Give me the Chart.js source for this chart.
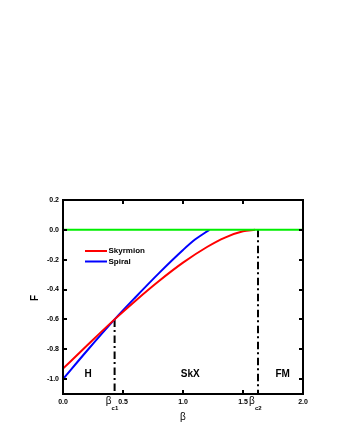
<!DOCTYPE html>
<html>
<head>
<meta charset="utf-8">
<script src="https://cdn.jsdelivr.net/npm/chart.js@4.4.1/dist/chart.umd.min.js"></script>
<style>
  html, body { margin: 0; padding: 0; background: #fff; }
  canvas { display: block; }
</style>
</head>
<body>
<canvas id="chart" width="340" height="440"></canvas>
<script>
// values
const skyrmionBeta = [0, 0.2, 0.43, 0.6, 0.8, 1.0, 1.2, 1.35, 1.5, 1.6];
const skyrmionF = [-0.93, -0.775, -0.6, -0.478, -0.343, -0.22, -0.115, -0.052, -0.01, 0];
const spiralBeta = [0, 0.2, 0.43, 0.6, 0.8, 1.0, 1.1, 1.22];
const spiralF = [-1.0, -0.81, -0.6, -0.455, -0.29, -0.135, -0.065, 0];
const fmBeta = [0, 2.0];
const fmF = [0, 0];
const criticalBeta = [0.43, 1.625];
const criticalF = [-0.6, 0];
const criticalNames = ['c1', 'c2'];
const seriesNames = ['Skyrmion', 'Spiral'];
const phaseNames = ['H', 'SkX', 'FM'];
const phaseBeta = [0.21, 1.06, 1.83];
const xTicks = [0, 0.5, 1.0, 1.5, 2.0];
const yTicks = [0.2, 0, -0.2, -0.4, -0.6, -0.8, -1.0];

const FONT = '"Liberation Sans", Arial, sans-serif';
Chart.defaults.font.family = FONT;

function toPoints(xs, ys) {
    return xs.map((x, i) => ({ x: x, y: ys[i] }));
}

const yMin = -1.1;
const dashDot = [7.5, 3, 2, 3.5];

const extras = {
    id: 'extras',
    afterDraw(chart) {
        const ctx = chart.ctx;
        const a = chart.chartArea;
        const xs = chart.scales.x;
        const ys = chart.scales.y;
        ctx.save();

        // frame
        ctx.strokeStyle = '#000';
        ctx.lineWidth = 2;
        ctx.strokeRect(a.left, a.top, a.right - a.left, a.bottom - a.top);

        // inward ticks on all four sides
        ctx.beginPath();
        xTicks.forEach(v => {
            const px = Math.round(xs.getPixelForValue(v));
            ctx.moveTo(px, a.bottom);
            ctx.lineTo(px, a.bottom - 4);
            ctx.moveTo(px, a.top);
            ctx.lineTo(px, a.top + 4);
        });
        yTicks.forEach(v => {
            const py = Math.round(ys.getPixelForValue(v));
            ctx.moveTo(a.left, py);
            ctx.lineTo(a.left + 4, py);
            ctx.moveTo(a.right, py);
            ctx.lineTo(a.right - 4, py);
        });
        ctx.stroke();

        // legend
        const colors = ['#ff0000', '#0000ff'];
        seriesNames.forEach((name, i) => {
            const y = 251 + i * 10.5;
            ctx.strokeStyle = colors[i];
            ctx.lineWidth = 2;
            ctx.beginPath();
            ctx.moveTo(85, y);
            ctx.lineTo(107, y);
            ctx.stroke();
            ctx.fillStyle = '#000';
            ctx.font = 'bold 8px ' + FONT;
            ctx.textAlign = 'left';
            ctx.textBaseline = 'middle';
            ctx.fillText(name, 108.5, y);
        });

        // phase labels
        ctx.fillStyle = '#000';
        ctx.font = 'bold 10px ' + FONT;
        ctx.textAlign = 'center';
        ctx.textBaseline = 'middle';
        phaseNames.forEach((name, i) => {
            ctx.fillText(name, xs.getPixelForValue(phaseBeta[i]), 374);
        });

        // critical point labels under the axis
        criticalBeta.forEach((b, i) => {
            const px = xs.getPixelForValue(b);
            ctx.font = '10px ' + FONT;
            ctx.textAlign = 'center';
            ctx.fillText('β', px - 6, 401);
            ctx.font = 'bold 6px ' + FONT;
            ctx.textAlign = 'left';
            ctx.fillText(criticalNames[i], px - 3, 408);
        });

        // axis titles
        ctx.font = '10px ' + FONT;
        ctx.textAlign = 'center';
        ctx.fillText('β', xs.getPixelForValue(1.0), 417);
        ctx.save();
        ctx.translate(35, 298);
        ctx.rotate(-Math.PI / 2);
        ctx.font = 'bold 10px ' + FONT;
        ctx.fillText('F', 0, 0);
        ctx.restore();

        ctx.restore();
    }
};

new Chart(document.getElementById('chart'), {
    type: 'scatter',
    data: {
        datasets: [
            {
                label: 'FM',
                data: toPoints(fmBeta, fmF),
                showLine: true,
                borderColor: '#00ee00',
                borderWidth: 2,
                pointRadius: 0
            },
            {
                label: seriesNames[0],
                data: toPoints(skyrmionBeta, skyrmionF),
                showLine: true,
                borderColor: '#ff0000',
                borderWidth: 2,
                pointRadius: 0,
                cubicInterpolationMode: 'monotone'
            },
            {
                label: seriesNames[1],
                data: toPoints(spiralBeta, spiralF),
                showLine: true,
                borderColor: '#0000ff',
                borderWidth: 2,
                pointRadius: 0,
                cubicInterpolationMode: 'monotone'
            },
            {
                label: 'beta c1',
                data: [{ x: criticalBeta[0], y: criticalF[0] }, { x: criticalBeta[0], y: yMin }],
                showLine: true,
                borderColor: '#000',
                borderWidth: 2,
                borderDash: dashDot,
                pointRadius: 0
            },
            {
                label: 'beta c2',
                data: [{ x: criticalBeta[1], y: criticalF[1] }, { x: criticalBeta[1], y: yMin }],
                showLine: true,
                borderColor: '#000',
                borderWidth: 2,
                borderDash: dashDot,
                pointRadius: 0
            }
        ]
    },
    options: {
        responsive: false,
        animation: false,
        devicePixelRatio: 1,
        layout: { padding: { left: 20, right: 37, top: 200, bottom: 10 } },
        plugins: {
            legend: { display: false },
            tooltip: { enabled: false }
        },
        scales: {
            x: {
                type: 'linear',
                min: 0,
                max: 2,
                afterBuildTicks: scale => { scale.ticks = xTicks.map(v => ({ value: v })); },
                afterFit: scale => { scale.height = 36; },
                grid: { display: false, drawTicks: false },
                border: { display: false },
                ticks: {
                    color: '#000',
                    padding: 4,
                    maxRotation: 0,
                    font: { size: 7, weight: 'bold' },
                    callback: v => Number(v).toFixed(1)
                }
            },
            y: {
                type: 'linear',
                min: yMin,
                max: 0.2,
                afterBuildTicks: scale => { scale.ticks = yTicks.map(v => ({ value: v })); },
                afterFit: scale => { scale.width = 43; },
                grid: { display: false, drawTicks: false },
                border: { display: false },
                ticks: {
                    color: '#000',
                    padding: 4,
                    font: { size: 7, weight: 'bold' },
                    callback: v => Number(v).toFixed(1)
                }
            }
        }
    },
    plugins: [extras]
});
</script>
</body>
</html>
